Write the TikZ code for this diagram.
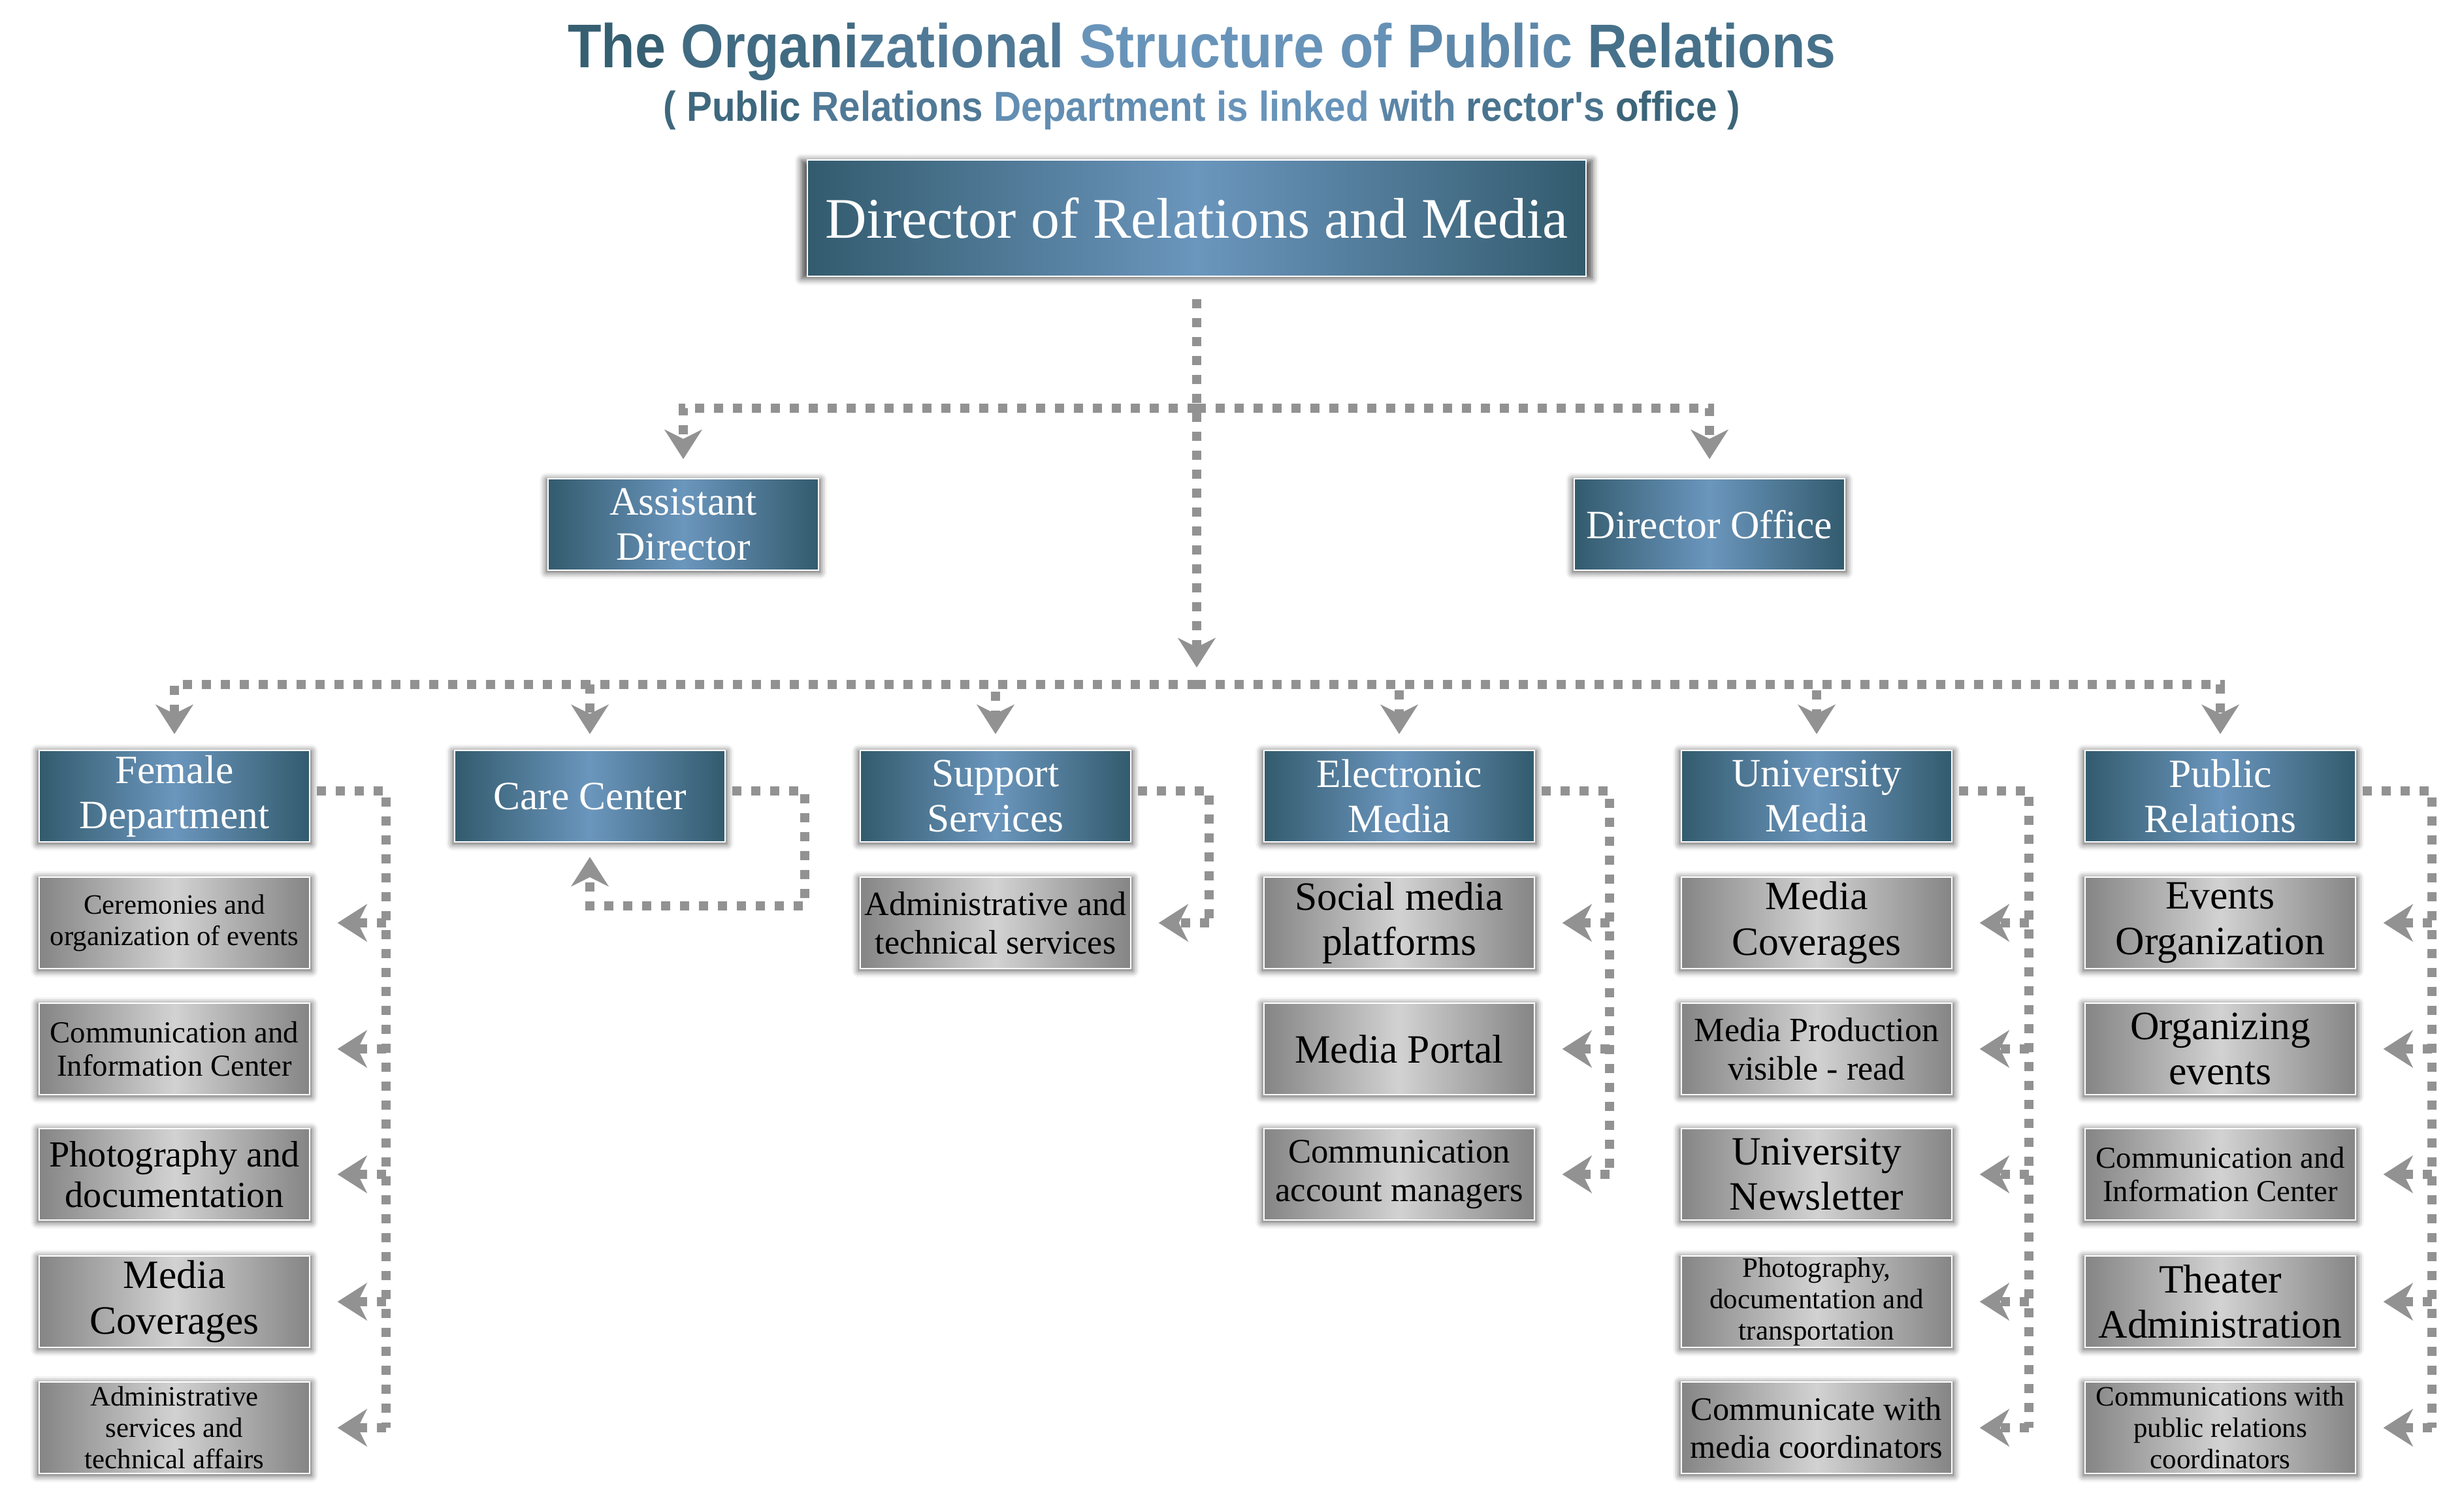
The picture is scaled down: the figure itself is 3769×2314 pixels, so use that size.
\documentclass[tikz,border=0pt]{standalone}
\usepackage{fontspec}
\setmainfont{Liberation Serif}
\newfontfamily\titlefont{Liberation Sans}
\usetikzlibrary{arrows.meta,shadows.blur}
\definecolor{bdark}{HTML}{335B6E}
\definecolor{blight}{HTML}{6B96BD}
\definecolor{gdark}{HTML}{858585}
\definecolor{glight}{HTML}{D2D2D2}
\definecolor{conncol}{HTML}{929292}
\definecolor{tdark}{HTML}{335C6E}
\definecolor{tlight}{HTML}{6C97BE}
\newcommand\fL{\fontsize{17.5}{19.8}\selectfont}
\newcommand\fM{\fontsize{14.8}{16.6}\selectfont}
\newcommand\fS{\fontsize{12.2}{13.6}\selectfont}
\newcommand\fC{\fontsize{13.3}{14.6}\selectfont}
\tikzset{
  boxbase/.style={draw=white, line width=0.02cm, minimum width=4.13cm, minimum height=1.40cm,
    align=center, inner sep=0pt,
    blur shadow={shadow xshift=0cm, shadow yshift=-0.02cm, shadow scale=1.015,
      shadow blur radius=0.1cm, shadow opacity=70}},
  bluebox/.style={boxbase, left color=bdark, right color=bdark, middle color=blight, text=white, font=\fL},
  graybox/.style={boxbase, left color=gdark, right color=gdark, middle color=glight, text=black},
  conn/.style={draw=conncol, line width=0.14cm, dash pattern=on 0.14cm off 0.15cm},
  arr/.style={-{Stealth[length=0.45cm,width=0.57cm,inset=0.14cm,fill=conncol]}},
}
\begin{document}
\begin{tikzpicture}[x=0.01cm,y=-0.01cm]
\useasboundingbox (0,0) rectangle (3769,2314);
% titles
\node[anchor=base, font=\titlefont\bfseries\fontsize{24}{28}\selectfont] (title) at (1840,103)
  {\scalebox{1}[1.12]{\textcolor{tlight!5!tdark}{The} \textcolor{tlight!25!tdark}{Organi}\textcolor{tlight!50!tdark}{zational} \textcolor{tlight!95!tdark}{Structure} \textcolor{tlight!90!tdark}{of} \textcolor{tlight!75!tdark}{Public} \textcolor{tlight!35!tdark}{Relations}}};
\node[anchor=base, font=\titlefont\bfseries\fontsize{16.6}{20}\selectfont] (sub) at (1840,185)
  {\scalebox{1}[1.1]{\textcolor{tlight!20!tdark}{( Public} \textcolor{tlight!50!tdark}{Relations} \textcolor{tlight!85!tdark}{Department} \textcolor{tlight!95!tdark}{is linked} \textcolor{tlight!70!tdark}{with} \textcolor{tlight!40!tdark}{rector's} \textcolor{tlight!15!tdark}{office )}}};
% top levels
\node[bluebox, minimum width=11.92cm, minimum height=1.78cm, font=\fontsize{25}{28}\selectfont] (top) at (1832,334) {Director of Relations and Media};
\node[bluebox] (asst) at (1046,803) {Assistant\\Director};
\node[bluebox] (dofc) at (2617,803) {Director Office};
% departments
\node[bluebox] (b1) at (267,1219) {Female\\Department};
\node[bluebox] (b2) at (903,1219) {Care Center};
\node[bluebox] (b3) at (1524,1219) {Support\\Services};
\node[bluebox] (b4) at (2142,1219) {Electronic\\Media};
\node[bluebox] (b5) at (2781,1219) {University\\Media};
\node[bluebox] (b6) at (3399,1219) {Public\\Relations};
% column 1
\node[graybox, font=\fS] (g11) at (267,1413) {Ceremonies and\\organization of events};
\node[graybox, font=\fC] (g12) at (267,1606) {Communication and\\Information Center};
\node[graybox, font=\fontsize{16}{17.6}\selectfont] (g13) at (267,1798) {Photography and\\documentation};
\node[graybox, font=\fL] (g14) at (267,1993) {Media\\Coverages};
\node[graybox, font=\fS] (g15) at (267,2186) {Administrative\\services and\\technical affairs};
% column 3
\node[graybox, font=\fM] (g31) at (1524,1413) {Administrative and\\technical services};
% column 4
\node[graybox, font=\fL] (g41) at (2142,1413) {Social media\\platforms};
\node[graybox, font=\fL] (g42) at (2142,1606) {Media Portal};
\node[graybox, font=\fontsize{15}{16.8}\selectfont] (g43) at (2142,1798) {Communication\\account managers};
% column 5
\node[graybox, font=\fL] (g51) at (2781,1413) {Media\\Coverages};
\node[graybox, font=\fM] (g52) at (2781,1606) {Media Production\\visible - read};
\node[graybox, font=\fL] (g53) at (2781,1798) {University\\Newsletter};
\node[graybox, font=\fS] (g54) at (2781,1993) {Photography,\\documentation and\\transportation};
\node[graybox, font=\fontsize{14.3}{16.4}\selectfont] (g55) at (2781,2186) {Communicate with\\media coordinators};
% column 6
\node[graybox, font=\fL] (g61) at (3399,1413) {Events\\Organization};
\node[graybox, font=\fL] (g62) at (3399,1606) {Organizing\\events};
\node[graybox, font=\fC] (g63) at (3399,1798) {Communication and\\Information Center};
\node[graybox, font=\fL] (g64) at (3399,1993) {Theater\\Administration};
\node[graybox, font=\fS] (g65) at (3399,2186) {Communications with\\public relations\\coordinators};
% junctions
\coordinate (j1) at (1832,625);
\coordinate (j2) at (1832,1022);
\coordinate (j3) at (1832,1048);
\draw[conn,arr] ([yshift=-0.34cm]top.south) -- (j2);
\draw[conn,arr] (j1) -| ([yshift=0.29cm]asst.north);
\draw[conn,arr] (j1) -| ([yshift=0.29cm]dofc.north);
\foreach \bx in {b1,b2,b3,b4,b5,b6}
  \draw[conn,arr] (j3) -| ([yshift=0.24cm]\bx.north);
% brackets
\coordinate (v1) at (591,2186);
\coordinate (v3) at (1851,1413);
\coordinate (v4) at (2464,1798);
\coordinate (v5) at (3106,2186);
\coordinate (v6) at (3723,2186);
\coordinate (cc) at (1232,1387);
\draw[conn] ([xshift=0.1cm,yshift=0.08cm]b1.east) -| (v1);
\draw[conn] ([xshift=0.1cm,yshift=0.08cm]b3.east) -| (v3);
\draw[conn] ([xshift=0.1cm,yshift=0.08cm]b4.east) -| (v4);
\draw[conn] ([xshift=0.1cm,yshift=0.08cm]b5.east) -| (v5);
\draw[conn] ([xshift=0.1cm,yshift=0.08cm]b6.east) -| (v6);
\draw[conn,arr] ([xshift=0.1cm,yshift=0.08cm]b2.east) -| (cc) -| ([yshift=-0.22cm]b2.south);
\foreach \g in {g11,g12,g13,g14,g15}
  \draw[conn,arr] (\g.east -| v1) -- ([xshift=0.42cm]\g.east);
\draw[conn,arr] (g31.east -| v3) -- ([xshift=0.42cm]g31.east);
\foreach \g in {g41,g42,g43}
  \draw[conn,arr] (\g.east -| v4) -- ([xshift=0.42cm]\g.east);
\foreach \g in {g51,g52,g53,g54,g55}
  \draw[conn,arr] (\g.east -| v5) -- ([xshift=0.42cm]\g.east);
\foreach \g in {g61,g62,g63,g64,g65}
  \draw[conn,arr] (\g.east -| v6) -- ([xshift=0.42cm]\g.east);
\end{tikzpicture}
\end{document}
